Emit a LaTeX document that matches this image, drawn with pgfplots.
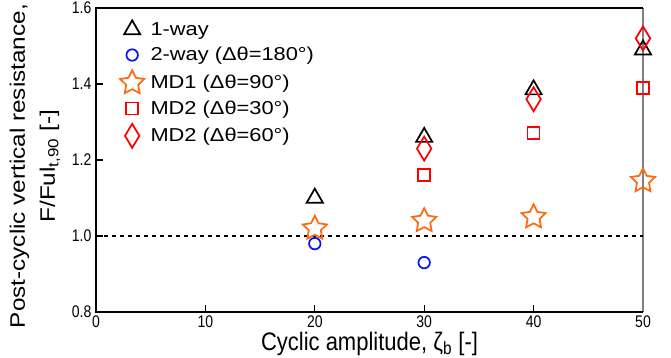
\documentclass[border=0pt]{standalone}
\usepackage{fontspec}
\setmainfont{Liberation Sans}
\usepackage{graphicx}
\usepackage{pgfplots}
\pgfplotsset{compat=1.18}
\definecolor{cOrange}{HTML}{FF6A10}
\definecolor{cBlue}{HTML}{0A14F0}
\definecolor{cRed}{HTML}{FF0000}
\pgfdeclareplotmark{ostar}{%
  \pgfpathmoveto{\pgfpointpolar{90}{\pgfplotmarksize}}%
  \pgfpathlineto{\pgfpointpolar{126}{0.5\pgfplotmarksize}}%
  \pgfpathlineto{\pgfpointpolar{162}{\pgfplotmarksize}}%
  \pgfpathlineto{\pgfpointpolar{198}{0.5\pgfplotmarksize}}%
  \pgfpathlineto{\pgfpointpolar{234}{\pgfplotmarksize}}%
  \pgfpathlineto{\pgfpointpolar{270}{0.5\pgfplotmarksize}}%
  \pgfpathlineto{\pgfpointpolar{306}{\pgfplotmarksize}}%
  \pgfpathlineto{\pgfpointpolar{342}{0.5\pgfplotmarksize}}%
  \pgfpathlineto{\pgfpointpolar{18}{\pgfplotmarksize}}%
  \pgfpathlineto{\pgfpointpolar{54}{0.5\pgfplotmarksize}}%
  \pgfpathclose
  \pgfusepathqstroke
}
\newcommand{\legtxt}[1]{\scalebox{1.17}[1]{#1}}
\begin{document}
\begin{tikzpicture}
\path[use as bounding box] (-72pt,-33.75pt) rectangle (431.25pt,234pt);
\begin{axis}[
  at={(0,0)}, anchor=south west,
  scale only axis, width=410.25pt, height=228pt,
  xmin=0, xmax=50, ymin=0.8, ymax=1.6,
  xtick={0,10,20,30,40,50},
  ytick={0.8,1.0,1.2,1.4,1.6},
  xticklabel={\scalebox{1}[1.2]{\pgfmathprintnumber{\tick}}},
  yticklabel={\scalebox{1}[1.2]{\pgfmathprintnumber[fixed,fixed zerofill,precision=1]{\tick}}},
  /pgf/number format/assume math mode=true,
  tick pos=left, tick align=inside,
  major tick length=5pt,
  major tick style={black, line width=0.8pt},
  axis line style={draw=none},
  clip=false,
  ticklabel style={font=\fontsize{10.5}{12}\selectfont},
  xticklabel style={yshift=-2.5pt, inner sep=0.5pt},
  xlabel={\scalebox{1}[1.15]{Cyclic amplitude, ζ\textsubscript{b} [-]}},
  ylabel={\scalebox{1.16}[1]{Post-cyclic vertical resistance,}\\\scalebox{1.16}[1]{F/Ful\textsubscript{t,90} [-]}},
  ylabel style={align=center, font=\fontsize{15.7}{22.5}\selectfont,
    at={(axis description cs:-0.1115,0.48)}, anchor=center},
  xlabel style={font=\fontsize{16.5}{18}\selectfont, inner sep=0.5pt,
    at={(axis description cs:0.5,-0.126)}, anchor=base},
  legend style={draw=none, fill=none, at={(rel axis cs:0,1)}, anchor=north west,
    xshift=14.75pt, yshift=-6.5pt, font=\fontsize{14}{16}\selectfont, row sep=3.6pt},
  legend cell align=left,
  legend image code/.code={\draw[#1] plot coordinates {(0.3cm,0cm)}; \path (0cm,0cm) (0.69cm,0cm);},
]
\draw[gray, line width=1.5pt] (rel axis cs:1,0) -- (rel axis cs:1,1);
\draw[black, line width=1.5pt] (rel axis cs:1,1) -- (rel axis cs:0,1) -- (rel axis cs:0,0) -- (rel axis cs:1,0);
\draw[black, dashed, line width=0.9pt] (axis cs:0,1) -- (axis cs:50,1);
\addplot[only marks, mark=triangle, mark size=7pt, black, line width=1.3pt] coordinates {(20,1.10) (30,1.26) (40,1.385) (50,1.49)};
\addlegendentry{\legtxt{1-way}}
\addplot[only marks, mark=o, mark size=4.3pt, cBlue, line width=1.3pt] coordinates {(20,0.98) (30,0.93)};
\addlegendentry{\legtxt{2-way (Δθ=180°)}}
\addplot[only marks, mark=ostar, mark size=9.5pt, cOrange, line width=1.3pt] coordinates {(20,1.02) (30,1.04) (40,1.05) (50,1.145)};
\addlegendentry{\legtxt{MD1 (Δθ=90°)}}
\addplot[only marks, mark=square, mark size=4.5pt, draw=cRed, mark options={draw=cRed, fill=none}, line width=1.3pt] coordinates {(30,1.16) (40,1.272) (50,1.39)};
\addlegendentry{\legtxt{MD2 (Δθ=30°)}}
\addplot[only marks, mark=diamond, mark size=9pt, mark options={xscale=0.8}, cRed, line width=1.3pt] coordinates {(30,1.23) (40,1.36) (50,1.52)};
\addlegendentry{\legtxt{MD2 (Δθ=60°)}}
\end{axis}
\end{tikzpicture}
\end{document}
